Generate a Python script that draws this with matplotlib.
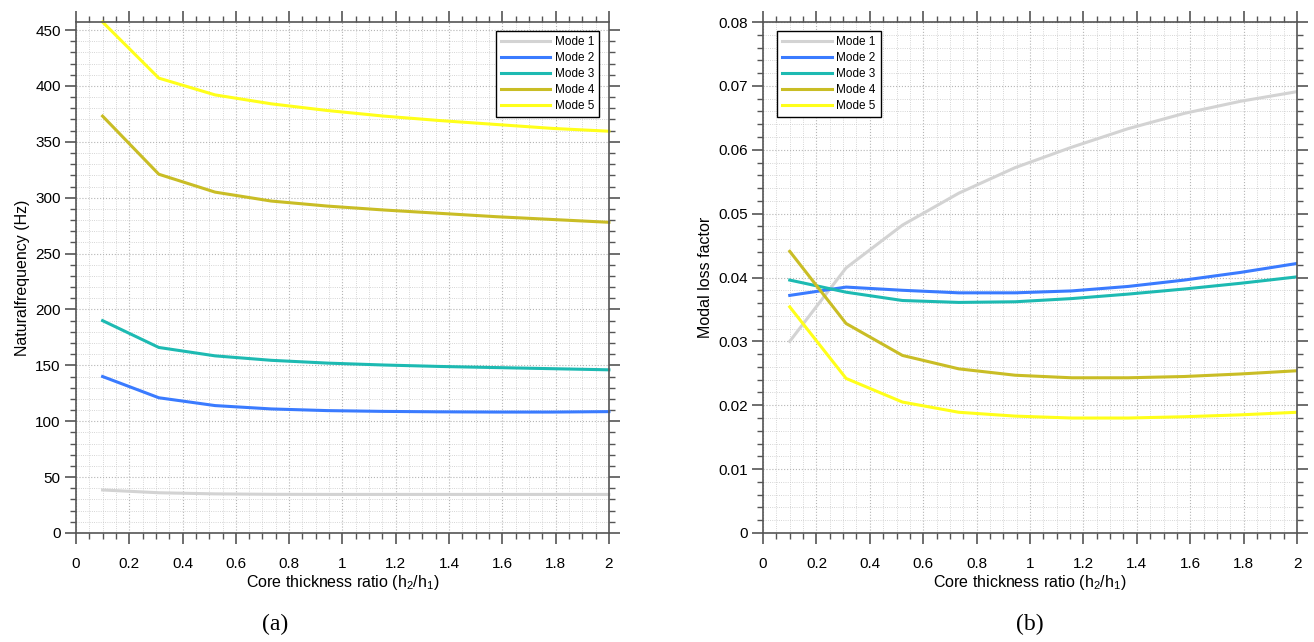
import matplotlib
matplotlib.use("Agg")
import matplotlib.pyplot as plt
from matplotlib.ticker import MultipleLocator, FormatStrFormatter

plt.rcParams['font.family'] = ['Liberation Sans', 'DejaVu Sans']
plt.rcParams['mathtext.default'] = 'regular'

# core thickness ratio h2/h1
ratio = [0.1, 0.311, 0.522, 0.733, 0.944, 1.156, 1.367, 1.578, 1.789, 2.0]

# (a) natural frequency (Hz)
freq_m1 = [38.5, 36.0, 35.0, 34.6, 34.5, 34.5, 34.5, 34.5, 34.5, 34.5]
freq_m2 = [140, 121, 114, 111, 109.5, 108.8, 108.4, 108.2, 108.2, 108.6]
freq_m3 = [190, 166, 158.5, 154.5, 152, 150.3, 149, 148, 147, 146]
freq_m4 = [373, 321, 305, 297, 292.5, 289, 286, 283, 280.5, 278]
freq_m5 = [457.2, 407, 392, 384, 378, 373, 369, 365.5, 362, 359.5]

# (b) modal loss factor
loss_m1 = [0.0300, 0.0415, 0.0482, 0.0532, 0.0572, 0.0604, 0.0633, 0.0657, 0.0676, 0.0691]
loss_m2 = [0.0372, 0.0385, 0.0380, 0.0376, 0.0376, 0.0379, 0.0386, 0.0396, 0.0408, 0.0422]
loss_m3 = [0.0396, 0.0377, 0.0364, 0.0361, 0.0362, 0.0367, 0.0374, 0.0382, 0.0391, 0.0401]
loss_m4 = [0.0441, 0.0328, 0.0278, 0.0257, 0.0247, 0.0243, 0.0243, 0.0245, 0.0249, 0.0254]
loss_m5 = [0.0354, 0.0242, 0.0205, 0.0189, 0.0183, 0.0180, 0.0180, 0.0182, 0.0185, 0.0189]

labels = ['Mode 1', 'Mode 2', 'Mode 3', 'Mode 4', 'Mode 5']
colors = ['#d3d3d3', '#3a7bff', '#1dbab2', '#c9bd25', '#ffff1a']

fig = plt.figure(figsize=(13.14, 6.42), dpi=100)
ax1 = fig.add_axes([0.0578, 0.1698, 0.4056, 0.7959])
ax2 = fig.add_axes([0.5807, 0.1698, 0.4064, 0.7959])


def style(ax, ymax, ymaj, ymin, yfmt):
    ax.set_xlim(0, 2)
    ax.set_ylim(0, ymax)
    ax.xaxis.set_major_locator(MultipleLocator(0.2))
    ax.xaxis.set_minor_locator(MultipleLocator(0.05))
    ax.yaxis.set_major_locator(MultipleLocator(ymaj))
    ax.yaxis.set_minor_locator(MultipleLocator(ymin))
    ax.xaxis.set_major_formatter(FormatStrFormatter('%g'))
    ax.yaxis.set_major_formatter(FormatStrFormatter(yfmt))
    ax.tick_params(which='both', direction='out', top=True, right=True,
                   color='#555555', labelsize=11, pad=3)
    ax.tick_params(which='major', length=8, width=1.2)
    ax.tick_params(which='minor', length=4.5, width=1.0)
    ax.tick_params(axis='x', which='major', pad=9)
    ax.tick_params(top=True, right=True, labeltop=False, labelright=False)
    for s in ax.spines.values():
        s.set_color('#555555')
        s.set_linewidth(1.2)
    ax.grid(which='major', linestyle=':', color='#b5b5b5', linewidth=0.8)
    ax.grid(which='minor', linestyle=':', color='#c8c8c8', linewidth=0.6)
    ax.set_axisbelow(True)
    ax.set_xlabel('Core thickness ratio (h$_2$/h$_1$)', fontsize=11.5, labelpad=2)


freqs = [freq_m1, freq_m2, freq_m3, freq_m4, freq_m5]
losses = [loss_m1, loss_m2, loss_m3, loss_m4, loss_m5]

for y, c, lab in zip(freqs, colors, labels):
    ax1.plot(ratio, y, color=c, lw=2.2, label=lab, clip_on=False)
for y, c, lab in zip(losses, colors, labels):
    ax2.plot(ratio, y, color=c, lw=2.2, label=lab)

style(ax1, max(freq_m5), 50, 10, '%g')
style(ax2, 0.08, 0.01, 0.002, '%g')
ax1.set_ylabel('Naturalfrequency (Hz)', fontsize=11.5, labelpad=4)
ax2.set_ylabel('Modal loss factor', fontsize=11.5, labelpad=4)

for ax, loc, anchor in [(ax1, 'upper right', (0.982, 0.982)),
                        (ax2, 'upper left', (0.027, 0.982))]:
    leg = ax.legend(loc=loc, bbox_to_anchor=anchor, fontsize=8.5,
                    fancybox=False, framealpha=1, edgecolor='black',
                    handlelength=4.2, handletextpad=0.4, labelspacing=0.35,
                    borderpad=0.4, borderaxespad=0)
    leg.get_frame().set_linewidth(1.0)

fig.text(0.2095, 0.018, '(a)', family='Liberation Serif', fontsize=17, ha='center')
fig.text(0.784, 0.018, '(b)', family='Liberation Serif', fontsize=17, ha='center')

fig.savefig('out.png', dpi=100)
